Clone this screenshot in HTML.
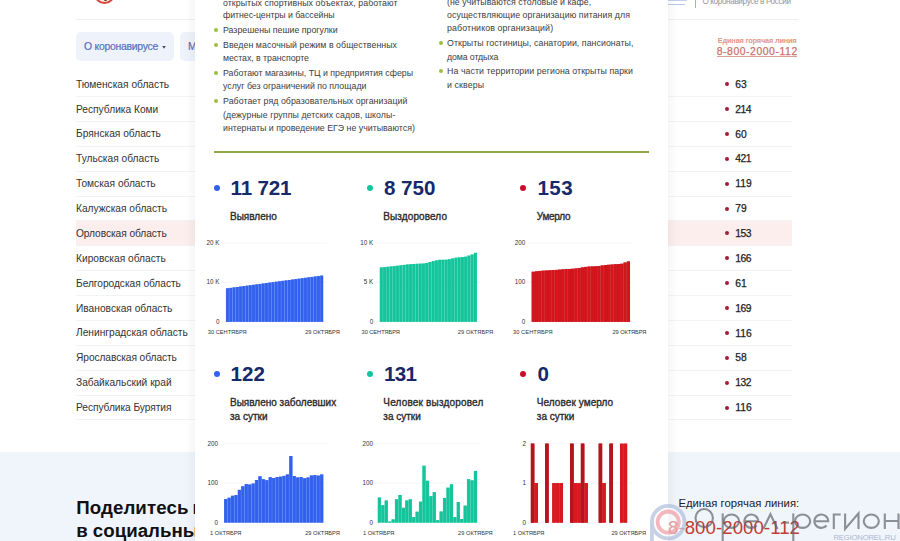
<!DOCTYPE html>
<html lang="ru"><head><meta charset="utf-8"><title>stopcoronavirus</title>
<style>
*{margin:0;padding:0;box-sizing:border-box}
html,body{width:900px;height:541px;overflow:hidden;background:#fff}
#wrap{position:absolute;left:0;top:0;width:900px;height:541px;overflow:hidden}
body{position:relative;font-family:"Liberation Sans",sans-serif;color:#222}
i{position:absolute;display:block}
.t{position:absolute;white-space:nowrap}
.hline{position:absolute;left:76px;width:722px;top:18.8px;height:1px;background:#efefef}
.pill{position:absolute;top:32px;height:29px;border-radius:5px;background:#edf2fb}
.rl{left:76px;width:716px;height:1px;background:#f3f3f3}
.hl{left:76px;width:716px;background:#fdeeee}
.rd{left:725.3px;width:4px;height:4px;border-radius:50%;background:#a81c33}
.foot{position:absolute;left:0;top:452px;width:900px;height:89px;background:#f0f4fb}
.modal{position:absolute;left:195px;top:-20px;width:473px;height:600px;background:#fff;box-shadow:0 0 12px rgba(30,30,40,.085)}
.gb{width:4px;height:4px;border-radius:50%;background:#9cc03e}
.gline{position:absolute;left:213.6px;width:435.6px;top:151.2px;height:1.8px;background:#8dab44}
.sd{width:6px;height:6px;border-radius:50%}
svg{position:absolute;left:0;top:0}
</style></head><body><div id="wrap">
<div class="hline"></div>
<div class="pill" style="left:76px;width:98px"></div>
<div class="pill" style="left:180px;width:120px"></div>
<svg width="900" height="70" viewBox="0 0 900 70"><path d="M162.2 45.9H165.8L164 48.7Z" fill="#474c63"/></svg>
<i style="left:94.4px;top:-17.2px;width:21px;height:21px;border-radius:50%;border:2px solid #d8453a;background:#fbeae4"></i><i style="left:103.6px;top:-3px;width:3px;height:4.4px;background:#5e4a2e;border-radius:1px"></i>
<i style="left:695px;top:0;width:1px;height:7.5px;background:#aab0bf"></i>
<i style="left:716.7px;top:55.7px;width:80.4px;height:1px;background:#d9a097"></i>
<i style="left:668px;top:0;width:18.5px;height:1.1px;background:#c2d0ec"></i><i style="left:668px;top:3.5px;width:17px;height:1.6px;background:#b7c7e8"></i>
<i class="rl" style="top:96px"></i><i class="rd" style="top:82.1px"></i>
<i class="rl" style="top:121px"></i><i class="rd" style="top:107.0px"></i>
<i class="rl" style="top:146px"></i><i class="rd" style="top:131.9px"></i>
<i class="rl" style="top:171px"></i><i class="rd" style="top:156.7px"></i>
<i class="rl" style="top:196px"></i><i class="rd" style="top:181.6px"></i>
<i class="rl" style="top:220px"></i><i class="rd" style="top:206.5px"></i>
<i class="hl" style="top:220.60px;height:25.40px"></i><i class="rl" style="top:245px"></i><i class="rd" style="top:231.4px"></i>
<i class="rl" style="top:270px"></i><i class="rd" style="top:256.3px"></i>
<i class="rl" style="top:295px"></i><i class="rd" style="top:281.1px"></i>
<i class="rl" style="top:320px"></i><i class="rd" style="top:306.0px"></i>
<i class="rl" style="top:345px"></i><i class="rd" style="top:330.9px"></i>
<i class="rl" style="top:370px"></i><i class="rd" style="top:355.8px"></i>
<i class="rl" style="top:395px"></i><i class="rd" style="top:380.7px"></i>
<i class="rl" style="top:419px"></i><i class="rd" style="top:405.5px"></i>
<div class="foot"></div>
<div class="t" id="t0" style="top:78px;font-size:10.20px;line-height:13px;color:#333;left:76.00px;">Тюменская область</div>
<div class="t" id="t1" style="top:78px;font-size:10.30px;line-height:13px;color:#222;left:735.20px;-webkit-text-stroke:0.25px #222;">63</div>
<div class="t" id="t2" style="top:103px;font-size:10.20px;line-height:13px;color:#333;left:76.00px;">Республика Коми</div>
<div class="t" id="t3" style="top:103px;font-size:10.30px;line-height:13px;color:#222;left:735.20px;letter-spacing:-0.500px;-webkit-text-stroke:0.25px #222;">214</div>
<div class="t" id="t4" style="top:127px;font-size:10.20px;line-height:13px;color:#333;left:76.00px;">Брянская область</div>
<div class="t" id="t5" style="top:128px;font-size:10.30px;line-height:13px;color:#222;left:735.20px;-webkit-text-stroke:0.25px #222;">60</div>
<div class="t" id="t6" style="top:152px;font-size:10.20px;line-height:13px;color:#333;left:76.00px;">Тульская область</div>
<div class="t" id="t7" style="top:152px;font-size:10.30px;line-height:13px;color:#222;left:735.20px;letter-spacing:-0.500px;-webkit-text-stroke:0.25px #222;">421</div>
<div class="t" id="t8" style="top:177px;font-size:10.20px;line-height:13px;color:#333;left:76.00px;">Томская область</div>
<div class="t" id="t9" style="top:177px;font-size:10.30px;line-height:13px;color:#222;left:735.20px;-webkit-text-stroke:0.25px #222;">119</div>
<div class="t" id="t10" style="top:202px;font-size:10.20px;line-height:13px;color:#333;left:76.00px;">Калужская область</div>
<div class="t" id="t11" style="top:202px;font-size:10.30px;line-height:13px;color:#222;left:735.20px;-webkit-text-stroke:0.25px #222;">79</div>
<div class="t" id="t12" style="top:227px;font-size:10.20px;line-height:13px;color:#333;left:76.00px;letter-spacing:-0.062px;">Орловская область</div>
<div class="t" id="t13" style="top:227px;font-size:10.30px;line-height:13px;color:#222;left:735.20px;letter-spacing:-0.500px;-webkit-text-stroke:0.25px #222;">153</div>
<div class="t" id="t14" style="top:252px;font-size:10.20px;line-height:13px;color:#333;left:76.00px;">Кировская область</div>
<div class="t" id="t15" style="top:252px;font-size:10.30px;line-height:13px;color:#222;left:735.20px;letter-spacing:-0.500px;-webkit-text-stroke:0.25px #222;">166</div>
<div class="t" id="t16" style="top:277px;font-size:10.20px;line-height:13px;color:#333;left:76.00px;letter-spacing:-0.042px;">Белгородская область</div>
<div class="t" id="t17" style="top:277px;font-size:10.30px;line-height:13px;color:#222;left:735.20px;-webkit-text-stroke:0.25px #222;">61</div>
<div class="t" id="t18" style="top:302px;font-size:10.20px;line-height:13px;color:#333;left:76.00px;">Ивановская область</div>
<div class="t" id="t19" style="top:302px;font-size:10.30px;line-height:13px;color:#222;left:735.20px;letter-spacing:-0.500px;-webkit-text-stroke:0.25px #222;">169</div>
<div class="t" id="t20" style="top:326px;font-size:10.20px;line-height:13px;color:#333;left:76.00px;">Ленинградская область</div>
<div class="t" id="t21" style="top:327px;font-size:10.30px;line-height:13px;color:#222;left:735.20px;-webkit-text-stroke:0.25px #222;">116</div>
<div class="t" id="t22" style="top:351px;font-size:10.20px;line-height:13px;color:#333;left:76.00px;letter-spacing:-0.072px;">Ярославская область</div>
<div class="t" id="t23" style="top:351px;font-size:10.30px;line-height:13px;color:#222;left:735.20px;-webkit-text-stroke:0.25px #222;">58</div>
<div class="t" id="t24" style="top:376px;font-size:10.20px;line-height:13px;color:#333;left:76.00px;">Забайкальский край</div>
<div class="t" id="t25" style="top:376px;font-size:10.30px;line-height:13px;color:#222;left:735.20px;letter-spacing:-0.500px;-webkit-text-stroke:0.25px #222;">132</div>
<div class="t" id="t26" style="top:401px;font-size:10.20px;line-height:13px;color:#333;left:76.00px;letter-spacing:-0.053px;">Республика Бурятия</div>
<div class="t" id="t27" style="top:401px;font-size:10.30px;line-height:13px;color:#222;left:735.20px;-webkit-text-stroke:0.25px #222;">116</div>
<div class="t" id="t28" style="top:40px;font-size:10.40px;line-height:14px;color:#5a6fbe;left:84.00px;letter-spacing:-0.249px;-webkit-text-stroke:0.2px #5a6fbe;">О коронавирусе</div>
<div class="t" id="t29" style="top:40px;font-size:10.40px;line-height:14px;color:#5a6fbe;left:188.00px;-webkit-text-stroke:0.2px #5a6fbe;">М</div>
<div class="t" id="t30" style="top:36px;font-size:7.40px;line-height:10px;color:#e29783;left:717.80px;font-weight:bold;letter-spacing:-0.200px;">Единая горячая линия</div>
<div class="t" id="t31" style="top:45px;font-size:10.40px;line-height:14px;color:#c9726a;left:716.70px;letter-spacing:0.562px;-webkit-text-stroke:0.25px #c9726a;">8-800-2000-112</div>
<div class="t" id="t32" style="top:-4px;font-size:8.20px;line-height:11px;color:#8f95a3;left:702.40px;letter-spacing:-0.382px;">О коронавирусе в России</div>
<div class="t" id="t33" style="top:496px;font-size:18.70px;line-height:24px;color:#111;left:76.20px;font-weight:bold;letter-spacing:0.090px;">Поделитесь</div>
<div class="t" id="t34" style="top:519px;font-size:18.70px;line-height:24px;color:#111;left:76.20px;font-weight:bold;">в социальных сетях</div>
<div class="t" id="t35" style="top:496px;font-size:11.30px;line-height:15px;color:#222;left:678.40px;">Единая горячая линия:</div>
<div class="t" id="t36" style="top:516px;font-size:18.60px;line-height:24px;color:#c03c35;left:668.00px;letter-spacing:0.077px;">8-800-2000-112</div>
<div class="t" id="t37" style="top:496px;font-size:18.70px;line-height:24px;color:#111;left:192.60px;font-weight:bold;">и</div>
<div class="modal"></div>
<i class="gb" style="left:214.3px;top:27.9px"></i><i class="gb" style="left:214.3px;top:42.5px"></i><i class="gb" style="left:214.3px;top:70.5px"></i><i class="gb" style="left:214.3px;top:98.8px"></i><i class="gb" style="left:439.0px;top:41.3px"></i><i class="gb" style="left:439.0px;top:69.2px"></i>
<div class="gline"></div>
<i class="sd" style="left:213.6px;top:185.1px;background:#3261ee"></i><i class="sd" style="left:213.6px;top:371.0px;background:#3261ee"></i><i class="sd" style="left:366.9px;top:185.1px;background:#15c49b"></i><i class="sd" style="left:366.9px;top:371.0px;background:#15c49b"></i><i class="sd" style="left:520.4px;top:185.1px;background:#c6102a"></i><i class="sd" style="left:520.4px;top:371.0px;background:#c6102a"></i>
<svg width="900" height="541" viewBox="0 0 900 541"><line x1="221" x2="327" y1="243.2" y2="243.2" stroke="#f6f6f6" stroke-width="1"/><line x1="221" x2="327" y1="282.4" y2="282.4" stroke="#f6f6f6" stroke-width="1"/><line x1="221" x2="327" y1="321.8" y2="321.8" stroke="#f6f6f6" stroke-width="1"/><line x1="221" x2="327" y1="443.7" y2="443.7" stroke="#f6f6f6" stroke-width="1"/><line x1="221" x2="327" y1="483.0" y2="483.0" stroke="#f6f6f6" stroke-width="1"/><line x1="221" x2="327" y1="522.3" y2="522.3" stroke="#f6f6f6" stroke-width="1"/><line x1="374" x2="480" y1="243.2" y2="243.2" stroke="#f6f6f6" stroke-width="1"/><line x1="374" x2="480" y1="282.4" y2="282.4" stroke="#f6f6f6" stroke-width="1"/><line x1="374" x2="480" y1="321.8" y2="321.8" stroke="#f6f6f6" stroke-width="1"/><line x1="374" x2="480" y1="443.7" y2="443.7" stroke="#f6f6f6" stroke-width="1"/><line x1="374" x2="480" y1="483.0" y2="483.0" stroke="#f6f6f6" stroke-width="1"/><line x1="374" x2="480" y1="522.3" y2="522.3" stroke="#f6f6f6" stroke-width="1"/><line x1="527" x2="633" y1="243.2" y2="243.2" stroke="#f6f6f6" stroke-width="1"/><line x1="527" x2="633" y1="282.4" y2="282.4" stroke="#f6f6f6" stroke-width="1"/><line x1="527" x2="633" y1="321.8" y2="321.8" stroke="#f6f6f6" stroke-width="1"/><line x1="527" x2="633" y1="443.7" y2="443.7" stroke="#f6f6f6" stroke-width="1"/><line x1="527" x2="633" y1="483.0" y2="483.0" stroke="#f6f6f6" stroke-width="1"/><line x1="527" x2="633" y1="522.3" y2="522.3" stroke="#f6f6f6" stroke-width="1"/><rect x="225.90" y="288.31" width="3.25" height="33.49" fill="#668bf6"/><rect x="229.15" y="287.87" width="3.25" height="33.93" fill="#668bf6"/><rect x="232.39" y="287.43" width="3.25" height="34.37" fill="#668bf6"/><rect x="235.64" y="287.00" width="3.25" height="34.80" fill="#668bf6"/><rect x="238.89" y="286.56" width="3.25" height="35.24" fill="#668bf6"/><rect x="242.13" y="286.12" width="3.25" height="35.68" fill="#668bf6"/><rect x="245.38" y="285.68" width="3.25" height="36.12" fill="#668bf6"/><rect x="248.63" y="285.25" width="3.25" height="36.55" fill="#668bf6"/><rect x="251.87" y="284.81" width="3.25" height="36.99" fill="#668bf6"/><rect x="255.12" y="284.37" width="3.25" height="37.43" fill="#668bf6"/><rect x="258.37" y="283.93" width="3.25" height="37.87" fill="#668bf6"/><rect x="261.61" y="283.50" width="3.25" height="38.30" fill="#668bf6"/><rect x="264.86" y="283.06" width="3.25" height="38.74" fill="#668bf6"/><rect x="268.11" y="282.62" width="3.25" height="39.18" fill="#668bf6"/><rect x="271.35" y="282.18" width="3.25" height="39.62" fill="#668bf6"/><rect x="274.60" y="281.75" width="3.25" height="40.05" fill="#668bf6"/><rect x="277.85" y="281.31" width="3.25" height="40.49" fill="#668bf6"/><rect x="281.09" y="280.87" width="3.25" height="40.93" fill="#668bf6"/><rect x="284.34" y="280.43" width="3.25" height="41.37" fill="#668bf6"/><rect x="287.59" y="280.00" width="3.25" height="41.80" fill="#668bf6"/><rect x="290.83" y="279.56" width="3.25" height="42.24" fill="#668bf6"/><rect x="294.08" y="279.12" width="3.25" height="42.68" fill="#668bf6"/><rect x="297.33" y="278.68" width="3.25" height="43.12" fill="#668bf6"/><rect x="300.57" y="278.24" width="3.25" height="43.56" fill="#668bf6"/><rect x="303.82" y="277.81" width="3.25" height="43.99" fill="#668bf6"/><rect x="307.07" y="277.37" width="3.25" height="44.43" fill="#668bf6"/><rect x="310.31" y="276.93" width="3.25" height="44.87" fill="#668bf6"/><rect x="313.56" y="276.49" width="3.25" height="45.31" fill="#668bf6"/><rect x="316.81" y="276.06" width="3.25" height="45.74" fill="#668bf6"/><rect x="320.05" y="275.62" width="3.25" height="46.18" fill="#668bf6"/><rect x="226.15" y="288.31" width="2.75" height="33.49" fill="#3261ee"/><rect x="229.40" y="287.87" width="2.75" height="33.93" fill="#3261ee"/><rect x="232.64" y="287.43" width="2.75" height="34.37" fill="#3261ee"/><rect x="235.89" y="287.00" width="2.75" height="34.80" fill="#3261ee"/><rect x="239.14" y="286.56" width="2.75" height="35.24" fill="#3261ee"/><rect x="242.38" y="286.12" width="2.75" height="35.68" fill="#3261ee"/><rect x="245.63" y="285.68" width="2.75" height="36.12" fill="#3261ee"/><rect x="248.88" y="285.25" width="2.75" height="36.55" fill="#3261ee"/><rect x="252.12" y="284.81" width="2.75" height="36.99" fill="#3261ee"/><rect x="255.37" y="284.37" width="2.75" height="37.43" fill="#3261ee"/><rect x="258.62" y="283.93" width="2.75" height="37.87" fill="#3261ee"/><rect x="261.86" y="283.50" width="2.75" height="38.30" fill="#3261ee"/><rect x="265.11" y="283.06" width="2.75" height="38.74" fill="#3261ee"/><rect x="268.36" y="282.62" width="2.75" height="39.18" fill="#3261ee"/><rect x="271.60" y="282.18" width="2.75" height="39.62" fill="#3261ee"/><rect x="274.85" y="281.75" width="2.75" height="40.05" fill="#3261ee"/><rect x="278.10" y="281.31" width="2.75" height="40.49" fill="#3261ee"/><rect x="281.34" y="280.87" width="2.75" height="40.93" fill="#3261ee"/><rect x="284.59" y="280.43" width="2.75" height="41.37" fill="#3261ee"/><rect x="287.84" y="280.00" width="2.75" height="41.80" fill="#3261ee"/><rect x="291.08" y="279.56" width="2.75" height="42.24" fill="#3261ee"/><rect x="294.33" y="279.12" width="2.75" height="42.68" fill="#3261ee"/><rect x="297.58" y="278.68" width="2.75" height="43.12" fill="#3261ee"/><rect x="300.82" y="278.24" width="2.75" height="43.56" fill="#3261ee"/><rect x="304.07" y="277.81" width="2.75" height="43.99" fill="#3261ee"/><rect x="307.32" y="277.37" width="2.75" height="44.43" fill="#3261ee"/><rect x="310.56" y="276.93" width="2.75" height="44.87" fill="#3261ee"/><rect x="313.81" y="276.49" width="2.75" height="45.31" fill="#3261ee"/><rect x="317.06" y="276.06" width="2.75" height="45.74" fill="#3261ee"/><rect x="320.30" y="275.62" width="2.75" height="46.18" fill="#3261ee"/><rect x="379.70" y="267.43" width="3.24" height="54.37" fill="#4fd5b6"/><rect x="382.94" y="267.11" width="3.24" height="54.69" fill="#4fd5b6"/><rect x="386.19" y="266.80" width="3.24" height="55.00" fill="#4fd5b6"/><rect x="389.43" y="266.48" width="3.24" height="55.32" fill="#4fd5b6"/><rect x="392.67" y="266.17" width="3.24" height="55.63" fill="#4fd5b6"/><rect x="395.92" y="265.75" width="3.24" height="56.05" fill="#4fd5b6"/><rect x="399.16" y="265.34" width="3.24" height="56.46" fill="#4fd5b6"/><rect x="402.40" y="264.93" width="3.24" height="56.87" fill="#4fd5b6"/><rect x="405.65" y="264.51" width="3.24" height="57.29" fill="#4fd5b6"/><rect x="408.89" y="264.26" width="3.24" height="57.54" fill="#4fd5b6"/><rect x="412.13" y="264.01" width="3.24" height="57.79" fill="#4fd5b6"/><rect x="415.38" y="263.81" width="3.24" height="57.99" fill="#4fd5b6"/><rect x="418.62" y="263.68" width="3.24" height="58.12" fill="#4fd5b6"/><rect x="421.86" y="263.54" width="3.24" height="58.26" fill="#4fd5b6"/><rect x="425.11" y="262.93" width="3.24" height="58.87" fill="#4fd5b6"/><rect x="428.35" y="262.01" width="3.24" height="59.79" fill="#4fd5b6"/><rect x="431.59" y="261.14" width="3.24" height="60.66" fill="#4fd5b6"/><rect x="434.84" y="260.39" width="3.24" height="61.41" fill="#4fd5b6"/><rect x="438.08" y="259.85" width="3.24" height="61.95" fill="#4fd5b6"/><rect x="441.32" y="259.78" width="3.24" height="62.02" fill="#4fd5b6"/><rect x="444.57" y="259.72" width="3.24" height="62.08" fill="#4fd5b6"/><rect x="447.81" y="259.19" width="3.24" height="62.61" fill="#4fd5b6"/><rect x="451.05" y="258.47" width="3.24" height="63.33" fill="#4fd5b6"/><rect x="454.30" y="257.74" width="3.24" height="64.06" fill="#4fd5b6"/><rect x="457.54" y="257.39" width="3.24" height="64.41" fill="#4fd5b6"/><rect x="460.78" y="257.05" width="3.24" height="64.75" fill="#4fd5b6"/><rect x="464.03" y="256.71" width="3.24" height="65.09" fill="#4fd5b6"/><rect x="467.27" y="255.65" width="3.24" height="66.15" fill="#4fd5b6"/><rect x="470.51" y="254.58" width="3.24" height="67.22" fill="#4fd5b6"/><rect x="473.76" y="252.85" width="3.24" height="68.95" fill="#4fd5b6"/><rect x="379.95" y="267.43" width="2.74" height="54.37" fill="#15c49b"/><rect x="383.19" y="267.11" width="2.74" height="54.69" fill="#15c49b"/><rect x="386.44" y="266.80" width="2.74" height="55.00" fill="#15c49b"/><rect x="389.68" y="266.48" width="2.74" height="55.32" fill="#15c49b"/><rect x="392.92" y="266.17" width="2.74" height="55.63" fill="#15c49b"/><rect x="396.17" y="265.75" width="2.74" height="56.05" fill="#15c49b"/><rect x="399.41" y="265.34" width="2.74" height="56.46" fill="#15c49b"/><rect x="402.65" y="264.93" width="2.74" height="56.87" fill="#15c49b"/><rect x="405.90" y="264.51" width="2.74" height="57.29" fill="#15c49b"/><rect x="409.14" y="264.26" width="2.74" height="57.54" fill="#15c49b"/><rect x="412.38" y="264.01" width="2.74" height="57.79" fill="#15c49b"/><rect x="415.63" y="263.81" width="2.74" height="57.99" fill="#15c49b"/><rect x="418.87" y="263.68" width="2.74" height="58.12" fill="#15c49b"/><rect x="422.11" y="263.54" width="2.74" height="58.26" fill="#15c49b"/><rect x="425.36" y="262.93" width="2.74" height="58.87" fill="#15c49b"/><rect x="428.60" y="262.01" width="2.74" height="59.79" fill="#15c49b"/><rect x="431.84" y="261.14" width="2.74" height="60.66" fill="#15c49b"/><rect x="435.09" y="260.39" width="2.74" height="61.41" fill="#15c49b"/><rect x="438.33" y="259.85" width="2.74" height="61.95" fill="#15c49b"/><rect x="441.57" y="259.78" width="2.74" height="62.02" fill="#15c49b"/><rect x="444.82" y="259.72" width="2.74" height="62.08" fill="#15c49b"/><rect x="448.06" y="259.19" width="2.74" height="62.61" fill="#15c49b"/><rect x="451.30" y="258.47" width="2.74" height="63.33" fill="#15c49b"/><rect x="454.55" y="257.74" width="2.74" height="64.06" fill="#15c49b"/><rect x="457.79" y="257.39" width="2.74" height="64.41" fill="#15c49b"/><rect x="461.03" y="257.05" width="2.74" height="64.75" fill="#15c49b"/><rect x="464.28" y="256.71" width="2.74" height="65.09" fill="#15c49b"/><rect x="467.52" y="255.65" width="2.74" height="66.15" fill="#15c49b"/><rect x="470.76" y="254.58" width="2.74" height="67.22" fill="#15c49b"/><rect x="474.01" y="252.85" width="2.74" height="68.95" fill="#15c49b"/><rect x="531.60" y="271.76" width="3.28" height="50.04" fill="#b81219"/><rect x="534.88" y="271.35" width="3.28" height="50.45" fill="#b81219"/><rect x="538.16" y="270.94" width="3.28" height="50.86" fill="#b81219"/><rect x="541.44" y="270.70" width="3.28" height="51.10" fill="#b81219"/><rect x="544.72" y="270.53" width="3.28" height="51.27" fill="#b81219"/><rect x="548.00" y="270.36" width="3.28" height="51.44" fill="#b81219"/><rect x="551.28" y="270.13" width="3.28" height="51.67" fill="#b81219"/><rect x="554.56" y="269.91" width="3.28" height="51.89" fill="#b81219"/><rect x="557.84" y="269.66" width="3.28" height="52.14" fill="#b81219"/><rect x="561.12" y="269.39" width="3.28" height="52.41" fill="#b81219"/><rect x="564.40" y="269.12" width="3.28" height="52.68" fill="#b81219"/><rect x="567.68" y="268.96" width="3.28" height="52.84" fill="#b81219"/><rect x="570.96" y="268.79" width="3.28" height="53.01" fill="#b81219"/><rect x="574.24" y="268.48" width="3.28" height="53.32" fill="#b81219"/><rect x="577.52" y="267.97" width="3.28" height="53.83" fill="#b81219"/><rect x="580.80" y="267.45" width="3.28" height="54.35" fill="#b81219"/><rect x="584.08" y="266.91" width="3.28" height="54.89" fill="#b81219"/><rect x="587.36" y="266.58" width="3.28" height="55.22" fill="#b81219"/><rect x="590.64" y="266.46" width="3.28" height="55.34" fill="#b81219"/><rect x="593.92" y="266.34" width="3.28" height="55.46" fill="#b81219"/><rect x="597.20" y="266.13" width="3.28" height="55.67" fill="#b81219"/><rect x="600.48" y="265.52" width="3.28" height="56.28" fill="#b81219"/><rect x="603.76" y="265.03" width="3.28" height="56.77" fill="#b81219"/><rect x="607.04" y="264.79" width="3.28" height="57.01" fill="#b81219"/><rect x="610.32" y="264.55" width="3.28" height="57.25" fill="#b81219"/><rect x="613.60" y="264.31" width="3.28" height="57.49" fill="#b81219"/><rect x="616.88" y="264.09" width="3.28" height="57.71" fill="#b81219"/><rect x="620.16" y="263.76" width="3.28" height="58.04" fill="#b81219"/><rect x="623.44" y="262.55" width="3.28" height="59.25" fill="#b81219"/><rect x="626.72" y="261.52" width="3.28" height="60.28" fill="#b81219"/><rect x="531.85" y="271.76" width="2.78" height="50.04" fill="#d6141c"/><rect x="535.13" y="271.35" width="2.78" height="50.45" fill="#d6141c"/><rect x="538.41" y="270.94" width="2.78" height="50.86" fill="#d6141c"/><rect x="541.69" y="270.70" width="2.78" height="51.10" fill="#d6141c"/><rect x="544.97" y="270.53" width="2.78" height="51.27" fill="#d6141c"/><rect x="548.25" y="270.36" width="2.78" height="51.44" fill="#d6141c"/><rect x="551.53" y="270.13" width="2.78" height="51.67" fill="#d6141c"/><rect x="554.81" y="269.91" width="2.78" height="51.89" fill="#d6141c"/><rect x="558.09" y="269.66" width="2.78" height="52.14" fill="#d6141c"/><rect x="561.37" y="269.39" width="2.78" height="52.41" fill="#d6141c"/><rect x="564.65" y="269.12" width="2.78" height="52.68" fill="#d6141c"/><rect x="567.93" y="268.96" width="2.78" height="52.84" fill="#d6141c"/><rect x="571.21" y="268.79" width="2.78" height="53.01" fill="#d6141c"/><rect x="574.49" y="268.48" width="2.78" height="53.32" fill="#d6141c"/><rect x="577.77" y="267.97" width="2.78" height="53.83" fill="#d6141c"/><rect x="581.05" y="267.45" width="2.78" height="54.35" fill="#d6141c"/><rect x="584.33" y="266.91" width="2.78" height="54.89" fill="#d6141c"/><rect x="587.61" y="266.58" width="2.78" height="55.22" fill="#d6141c"/><rect x="590.89" y="266.46" width="2.78" height="55.34" fill="#d6141c"/><rect x="594.17" y="266.34" width="2.78" height="55.46" fill="#d6141c"/><rect x="597.45" y="266.13" width="2.78" height="55.67" fill="#d6141c"/><rect x="600.73" y="265.52" width="2.78" height="56.28" fill="#d6141c"/><rect x="604.01" y="265.03" width="2.78" height="56.77" fill="#d6141c"/><rect x="607.29" y="264.79" width="2.78" height="57.01" fill="#d6141c"/><rect x="610.57" y="264.55" width="2.78" height="57.25" fill="#d6141c"/><rect x="613.85" y="264.31" width="2.78" height="57.49" fill="#d6141c"/><rect x="617.13" y="264.09" width="2.78" height="57.71" fill="#d6141c"/><rect x="620.41" y="263.76" width="2.78" height="58.04" fill="#d6141c"/><rect x="623.69" y="262.55" width="2.78" height="59.25" fill="#d6141c"/><rect x="626.97" y="261.52" width="2.78" height="60.28" fill="#d6141c"/><rect x="224.00" y="499.05" width="3.43" height="23.55" fill="#668bf6"/><rect x="227.43" y="497.75" width="3.43" height="24.85" fill="#668bf6"/><rect x="230.86" y="495.77" width="3.43" height="26.83" fill="#668bf6"/><rect x="234.28" y="495.14" width="3.43" height="27.46" fill="#668bf6"/><rect x="237.71" y="489.86" width="3.43" height="32.74" fill="#668bf6"/><rect x="241.14" y="486.31" width="3.43" height="36.29" fill="#668bf6"/><rect x="244.57" y="484.14" width="3.43" height="38.46" fill="#668bf6"/><rect x="247.99" y="484.53" width="3.43" height="38.07" fill="#668bf6"/><rect x="251.42" y="483.54" width="3.43" height="39.06" fill="#668bf6"/><rect x="254.85" y="479.99" width="3.43" height="42.61" fill="#668bf6"/><rect x="258.28" y="476.29" width="3.43" height="46.31" fill="#668bf6"/><rect x="261.70" y="479.21" width="3.43" height="43.40" fill="#668bf6"/><rect x="265.13" y="480.19" width="3.43" height="42.41" fill="#668bf6"/><rect x="268.56" y="477.23" width="3.43" height="45.37" fill="#668bf6"/><rect x="271.99" y="478.02" width="3.43" height="44.58" fill="#668bf6"/><rect x="275.41" y="477.07" width="3.43" height="45.53" fill="#668bf6"/><rect x="278.84" y="476.68" width="3.43" height="45.92" fill="#668bf6"/><rect x="282.27" y="475.89" width="3.43" height="46.71" fill="#668bf6"/><rect x="285.70" y="474.47" width="3.43" height="48.13" fill="#668bf6"/><rect x="289.12" y="456.05" width="3.43" height="66.55" fill="#668bf6"/><rect x="292.55" y="476.05" width="3.43" height="46.55" fill="#668bf6"/><rect x="295.98" y="477.47" width="3.43" height="45.13" fill="#668bf6"/><rect x="299.41" y="477.07" width="3.43" height="45.53" fill="#668bf6"/><rect x="302.83" y="478.26" width="3.43" height="44.34" fill="#668bf6"/><rect x="306.26" y="477.47" width="3.43" height="45.13" fill="#668bf6"/><rect x="309.69" y="475.50" width="3.43" height="47.10" fill="#668bf6"/><rect x="313.12" y="475.10" width="3.43" height="47.50" fill="#668bf6"/><rect x="316.54" y="475.65" width="3.43" height="46.95" fill="#668bf6"/><rect x="319.97" y="474.47" width="3.43" height="48.13" fill="#668bf6"/><rect x="224.25" y="499.05" width="2.93" height="23.55" fill="#3261ee"/><rect x="227.68" y="497.75" width="2.93" height="24.85" fill="#3261ee"/><rect x="231.11" y="495.77" width="2.93" height="26.83" fill="#3261ee"/><rect x="234.53" y="495.14" width="2.93" height="27.46" fill="#3261ee"/><rect x="237.96" y="489.86" width="2.93" height="32.74" fill="#3261ee"/><rect x="241.39" y="486.31" width="2.93" height="36.29" fill="#3261ee"/><rect x="244.82" y="484.14" width="2.93" height="38.46" fill="#3261ee"/><rect x="248.24" y="484.53" width="2.93" height="38.07" fill="#3261ee"/><rect x="251.67" y="483.54" width="2.93" height="39.06" fill="#3261ee"/><rect x="255.10" y="479.99" width="2.93" height="42.61" fill="#3261ee"/><rect x="258.53" y="476.29" width="2.93" height="46.31" fill="#3261ee"/><rect x="261.95" y="479.21" width="2.93" height="43.40" fill="#3261ee"/><rect x="265.38" y="480.19" width="2.93" height="42.41" fill="#3261ee"/><rect x="268.81" y="477.23" width="2.93" height="45.37" fill="#3261ee"/><rect x="272.24" y="478.02" width="2.93" height="44.58" fill="#3261ee"/><rect x="275.66" y="477.07" width="2.93" height="45.53" fill="#3261ee"/><rect x="279.09" y="476.68" width="2.93" height="45.92" fill="#3261ee"/><rect x="282.52" y="475.89" width="2.93" height="46.71" fill="#3261ee"/><rect x="285.95" y="474.47" width="2.93" height="48.13" fill="#3261ee"/><rect x="289.37" y="456.05" width="2.93" height="66.55" fill="#3261ee"/><rect x="292.80" y="476.05" width="2.93" height="46.55" fill="#3261ee"/><rect x="296.23" y="477.47" width="2.93" height="45.13" fill="#3261ee"/><rect x="299.66" y="477.07" width="2.93" height="45.53" fill="#3261ee"/><rect x="303.08" y="478.26" width="2.93" height="44.34" fill="#3261ee"/><rect x="306.51" y="477.47" width="2.93" height="45.13" fill="#3261ee"/><rect x="309.94" y="475.50" width="2.93" height="47.10" fill="#3261ee"/><rect x="313.37" y="475.10" width="2.93" height="47.50" fill="#3261ee"/><rect x="316.79" y="475.65" width="2.93" height="46.95" fill="#3261ee"/><rect x="320.22" y="474.47" width="2.93" height="48.13" fill="#3261ee"/><rect x="377.70" y="497.55" width="3.43" height="25.05" fill="#4fd5b6"/><rect x="381.13" y="505.24" width="3.43" height="17.36" fill="#4fd5b6"/><rect x="384.56" y="500.51" width="3.43" height="22.09" fill="#4fd5b6"/><rect x="387.99" y="521.57" width="3.43" height="1.03" fill="#4fd5b6"/><rect x="391.42" y="519.44" width="3.43" height="3.16" fill="#4fd5b6"/><rect x="394.86" y="499.32" width="3.43" height="23.28" fill="#4fd5b6"/><rect x="398.29" y="494.99" width="3.43" height="27.62" fill="#4fd5b6"/><rect x="401.72" y="507.81" width="3.43" height="14.79" fill="#4fd5b6"/><rect x="405.15" y="500.51" width="3.43" height="22.09" fill="#4fd5b6"/><rect x="408.58" y="499.32" width="3.43" height="23.28" fill="#4fd5b6"/><rect x="412.01" y="517.08" width="3.43" height="5.52" fill="#4fd5b6"/><rect x="415.44" y="511.71" width="3.43" height="10.89" fill="#4fd5b6"/><rect x="418.87" y="501.69" width="3.43" height="20.91" fill="#4fd5b6"/><rect x="422.30" y="465.79" width="3.43" height="56.81" fill="#4fd5b6"/><rect x="425.73" y="480.78" width="3.43" height="41.82" fill="#4fd5b6"/><rect x="429.17" y="496.17" width="3.43" height="26.43" fill="#4fd5b6"/><rect x="432.60" y="492.22" width="3.43" height="30.38" fill="#4fd5b6"/><rect x="436.03" y="520.23" width="3.43" height="2.37" fill="#4fd5b6"/><rect x="439.46" y="511.55" width="3.43" height="11.05" fill="#4fd5b6"/><rect x="442.89" y="497.94" width="3.43" height="24.66" fill="#4fd5b6"/><rect x="446.32" y="487.69" width="3.43" height="34.91" fill="#4fd5b6"/><rect x="449.75" y="484.33" width="3.43" height="38.27" fill="#4fd5b6"/><rect x="453.18" y="517.08" width="3.43" height="5.52" fill="#4fd5b6"/><rect x="456.61" y="502.09" width="3.43" height="20.51" fill="#4fd5b6"/><rect x="460.04" y="519.05" width="3.43" height="3.55" fill="#4fd5b6"/><rect x="463.48" y="505.64" width="3.43" height="16.96" fill="#4fd5b6"/><rect x="466.91" y="479.21" width="3.43" height="43.40" fill="#4fd5b6"/><rect x="470.34" y="480.39" width="3.43" height="42.21" fill="#4fd5b6"/><rect x="473.77" y="470.92" width="3.43" height="51.68" fill="#4fd5b6"/><rect x="377.95" y="497.55" width="2.93" height="25.05" fill="#15c49b"/><rect x="381.38" y="505.24" width="2.93" height="17.36" fill="#15c49b"/><rect x="384.81" y="500.51" width="2.93" height="22.09" fill="#15c49b"/><rect x="388.24" y="521.57" width="2.93" height="1.03" fill="#15c49b"/><rect x="391.67" y="519.44" width="2.93" height="3.16" fill="#15c49b"/><rect x="395.11" y="499.32" width="2.93" height="23.28" fill="#15c49b"/><rect x="398.54" y="494.99" width="2.93" height="27.62" fill="#15c49b"/><rect x="401.97" y="507.81" width="2.93" height="14.79" fill="#15c49b"/><rect x="405.40" y="500.51" width="2.93" height="22.09" fill="#15c49b"/><rect x="408.83" y="499.32" width="2.93" height="23.28" fill="#15c49b"/><rect x="412.26" y="517.08" width="2.93" height="5.52" fill="#15c49b"/><rect x="415.69" y="511.71" width="2.93" height="10.89" fill="#15c49b"/><rect x="419.12" y="501.69" width="2.93" height="20.91" fill="#15c49b"/><rect x="422.55" y="465.79" width="2.93" height="56.81" fill="#15c49b"/><rect x="425.98" y="480.78" width="2.93" height="41.82" fill="#15c49b"/><rect x="429.42" y="496.17" width="2.93" height="26.43" fill="#15c49b"/><rect x="432.85" y="492.22" width="2.93" height="30.38" fill="#15c49b"/><rect x="436.28" y="520.23" width="2.93" height="2.37" fill="#15c49b"/><rect x="439.71" y="511.55" width="2.93" height="11.05" fill="#15c49b"/><rect x="443.14" y="497.94" width="2.93" height="24.66" fill="#15c49b"/><rect x="446.57" y="487.69" width="2.93" height="34.91" fill="#15c49b"/><rect x="450.00" y="484.33" width="2.93" height="38.27" fill="#15c49b"/><rect x="453.43" y="517.08" width="2.93" height="5.52" fill="#15c49b"/><rect x="456.86" y="502.09" width="2.93" height="20.51" fill="#15c49b"/><rect x="460.29" y="519.05" width="2.93" height="3.55" fill="#15c49b"/><rect x="463.73" y="505.64" width="2.93" height="16.96" fill="#15c49b"/><rect x="467.16" y="479.21" width="2.93" height="43.40" fill="#15c49b"/><rect x="470.59" y="480.39" width="2.93" height="42.21" fill="#15c49b"/><rect x="474.02" y="470.92" width="2.93" height="51.68" fill="#15c49b"/><rect x="530.80" y="443.70" width="3.57" height="78.90" fill="#b81219"/><rect x="534.37" y="483.15" width="3.57" height="39.45" fill="#b81219"/><rect x="545.09" y="443.70" width="3.57" height="78.90" fill="#b81219"/><rect x="552.23" y="483.15" width="3.57" height="39.45" fill="#b81219"/><rect x="555.80" y="483.15" width="3.57" height="39.45" fill="#b81219"/><rect x="559.37" y="483.15" width="3.57" height="39.45" fill="#b81219"/><rect x="570.09" y="443.70" width="3.57" height="78.90" fill="#b81219"/><rect x="573.66" y="483.15" width="3.57" height="39.45" fill="#b81219"/><rect x="577.23" y="483.15" width="3.57" height="39.45" fill="#b81219"/><rect x="580.80" y="443.70" width="3.57" height="78.90" fill="#b81219"/><rect x="584.37" y="483.15" width="3.57" height="39.45" fill="#b81219"/><rect x="598.66" y="443.70" width="3.57" height="78.90" fill="#b81219"/><rect x="602.23" y="483.15" width="3.57" height="39.45" fill="#b81219"/><rect x="609.37" y="443.70" width="3.57" height="78.90" fill="#b81219"/><rect x="620.09" y="443.70" width="3.57" height="78.90" fill="#b81219"/><rect x="623.66" y="443.70" width="3.57" height="78.90" fill="#b81219"/><rect x="531.05" y="443.70" width="3.07" height="78.90" fill="#dc181f"/><rect x="530.90" y="443.70" width="3.37" height="78.90" fill="#b4141b"/><rect x="534.62" y="483.15" width="3.07" height="39.45" fill="#dc181f"/><rect x="545.34" y="443.70" width="3.07" height="78.90" fill="#dc181f"/><rect x="545.19" y="443.70" width="3.37" height="78.90" fill="#b4141b"/><rect x="552.48" y="483.15" width="3.07" height="39.45" fill="#dc181f"/><rect x="556.05" y="483.15" width="3.07" height="39.45" fill="#dc181f"/><rect x="559.62" y="483.15" width="3.07" height="39.45" fill="#dc181f"/><rect x="570.34" y="443.70" width="3.07" height="78.90" fill="#dc181f"/><rect x="570.19" y="443.70" width="3.37" height="78.90" fill="#b4141b"/><rect x="573.91" y="483.15" width="3.07" height="39.45" fill="#dc181f"/><rect x="577.48" y="483.15" width="3.07" height="39.45" fill="#dc181f"/><rect x="581.05" y="443.70" width="3.07" height="78.90" fill="#dc181f"/><rect x="580.90" y="443.70" width="3.37" height="78.90" fill="#b4141b"/><rect x="584.62" y="483.15" width="3.07" height="39.45" fill="#dc181f"/><rect x="598.91" y="443.70" width="3.07" height="78.90" fill="#dc181f"/><rect x="598.76" y="443.70" width="3.37" height="78.90" fill="#b4141b"/><rect x="602.48" y="483.15" width="3.07" height="39.45" fill="#dc181f"/><rect x="609.62" y="443.70" width="3.07" height="78.90" fill="#dc181f"/><rect x="609.47" y="443.70" width="3.37" height="78.90" fill="#b4141b"/><rect x="620.34" y="443.70" width="3.07" height="78.90" fill="#dc181f"/><rect x="623.91" y="443.70" width="3.07" height="78.90" fill="#dc181f"/></svg>
<div class="t" id="t38" style="top:-2px;font-size:8.80px;line-height:11px;color:#404040;left:223.00px;letter-spacing:0.059px;">открытых спортивных объектах, работают</div>
<div class="t" id="t39" style="top:10px;font-size:8.80px;line-height:11px;color:#404040;left:223.00px;letter-spacing:-0.043px;">фитнес-центры и бассейны</div>
<div class="t" id="t40" style="top:25px;font-size:8.80px;line-height:11px;color:#404040;left:223.00px;">Разрешены пешие прогулки</div>
<div class="t" id="t41" style="top:40px;font-size:8.80px;line-height:11px;color:#404040;left:223.00px;letter-spacing:0.054px;">Введен масочный режим в общественных</div>
<div class="t" id="t42" style="top:53px;font-size:8.80px;line-height:11px;color:#404040;left:223.00px;letter-spacing:-0.047px;">местах, в транспорте</div>
<div class="t" id="t43" style="top:68px;font-size:8.80px;line-height:11px;color:#404040;left:223.00px;">Работают магазины, ТЦ и предприятия сферы</div>
<div class="t" id="t44" style="top:81px;font-size:8.80px;line-height:11px;color:#404040;left:223.00px;">услуг без ограничений по площади</div>
<div class="t" id="t45" style="top:96px;font-size:8.80px;line-height:11px;color:#404040;left:223.00px;letter-spacing:0.051px;">Работает ряд образовательных организаций</div>
<div class="t" id="t46" style="top:110px;font-size:8.80px;line-height:11px;color:#404040;left:223.00px;letter-spacing:0.068px;">(дежурные группы детских садов, школы-</div>
<div class="t" id="t47" style="top:123px;font-size:8.80px;line-height:11px;color:#404040;left:223.00px;">интернаты и проведение ЕГЭ не учитываются)</div>
<div class="t" id="t48" style="top:-3px;font-size:8.80px;line-height:11px;color:#404040;left:447.00px;letter-spacing:0.032px;">(не учитываются столовые и кафе,</div>
<div class="t" id="t49" style="top:10px;font-size:8.80px;line-height:11px;color:#404040;left:447.00px;letter-spacing:0.068px;">осуществляющие организацию питания для</div>
<div class="t" id="t50" style="top:23px;font-size:8.80px;line-height:11px;color:#404040;left:447.00px;letter-spacing:0.118px;">работников организаций)</div>
<div class="t" id="t51" style="top:38px;font-size:8.80px;line-height:11px;color:#404040;left:447.00px;letter-spacing:0.052px;">Открыты гостиницы, санатории, пансионаты,</div>
<div class="t" id="t52" style="top:52px;font-size:8.80px;line-height:11px;color:#404040;left:447.00px;letter-spacing:-0.120px;">дома отдыха</div>
<div class="t" id="t53" style="top:66px;font-size:8.80px;line-height:11px;color:#404040;left:447.00px;letter-spacing:0.065px;">На части территории региона открыты парки</div>
<div class="t" id="t54" style="top:80px;font-size:8.80px;line-height:11px;color:#404040;left:447.00px;letter-spacing:0.116px;">и скверы</div>
<div class="t" id="t55" style="top:174px;font-size:20.60px;line-height:27px;color:#17296b;left:230.60px;font-weight:bold;letter-spacing:-0.200px;">11 721</div>
<div class="t" id="t56" style="top:210px;font-size:10.00px;line-height:13px;color:#2b2b2b;left:230.00px;-webkit-text-stroke:0.35px #2b2b2b;">Выявлено</div>
<div class="t" id="t57" style="top:360px;font-size:20.60px;line-height:27px;color:#17296b;left:230.60px;font-weight:bold;">122</div>
<div class="t" id="t58" style="top:396px;font-size:10.00px;line-height:13px;color:#2b2b2b;left:230.00px;-webkit-text-stroke:0.35px #2b2b2b;">Выявлено заболевших</div>
<div class="t" id="t59" style="top:410px;font-size:10.00px;line-height:13px;color:#2b2b2b;left:230.00px;-webkit-text-stroke:0.35px #2b2b2b;">за сутки</div>
<div class="t" id="t60" style="top:174px;font-size:20.60px;line-height:27px;color:#17296b;left:383.90px;font-weight:bold;">8 750</div>
<div class="t" id="t61" style="top:210px;font-size:10.00px;line-height:13px;color:#2b2b2b;left:383.30px;letter-spacing:0.100px;-webkit-text-stroke:0.35px #2b2b2b;">Выздоровело</div>
<div class="t" id="t62" style="top:360px;font-size:20.60px;line-height:27px;color:#17296b;left:383.90px;font-weight:bold;letter-spacing:-0.600px;">131</div>
<div class="t" id="t63" style="top:396px;font-size:10.00px;line-height:13px;color:#2b2b2b;left:383.30px;letter-spacing:0.176px;-webkit-text-stroke:0.35px #2b2b2b;">Человек выздоровел</div>
<div class="t" id="t64" style="top:410px;font-size:10.00px;line-height:13px;color:#2b2b2b;left:383.30px;-webkit-text-stroke:0.35px #2b2b2b;">за сутки</div>
<div class="t" id="t65" style="top:174px;font-size:20.60px;line-height:27px;color:#17296b;left:537.40px;font-weight:bold;letter-spacing:0.500px;">153</div>
<div class="t" id="t66" style="top:210px;font-size:10.00px;line-height:13px;color:#2b2b2b;left:536.80px;letter-spacing:-0.280px;-webkit-text-stroke:0.35px #2b2b2b;">Умерло</div>
<div class="t" id="t67" style="top:360px;font-size:20.60px;line-height:27px;color:#17296b;left:537.40px;font-weight:bold;">0</div>
<div class="t" id="t68" style="top:396px;font-size:10.00px;line-height:13px;color:#2b2b2b;left:536.80px;letter-spacing:0.077px;-webkit-text-stroke:0.35px #2b2b2b;">Человек умерло</div>
<div class="t" id="t69" style="top:410px;font-size:10.00px;line-height:13px;color:#2b2b2b;left:536.80px;-webkit-text-stroke:0.35px #2b2b2b;">за сутки</div>
<div class="t" id="t70" style="top:239px;font-size:6.30px;line-height:8px;color:#333;right:680.60px;">20 K</div>
<div class="t" id="t71" style="top:278px;font-size:6.30px;line-height:8px;color:#333;right:680.60px;">10 K</div>
<div class="t" id="t72" style="top:318px;font-size:6.30px;line-height:8px;color:#333;right:680.60px;">0</div>
<div class="t" id="t73" style="top:239px;font-size:6.30px;line-height:8px;color:#333;right:526.80px;">10 K</div>
<div class="t" id="t74" style="top:278px;font-size:6.30px;line-height:8px;color:#333;right:526.80px;">5 K</div>
<div class="t" id="t75" style="top:318px;font-size:6.30px;line-height:8px;color:#333;right:526.80px;">0</div>
<div class="t" id="t76" style="top:239px;font-size:6.30px;line-height:8px;color:#333;right:374.70px;">200</div>
<div class="t" id="t77" style="top:278px;font-size:6.30px;line-height:8px;color:#333;right:374.70px;">100</div>
<div class="t" id="t78" style="top:318px;font-size:6.30px;line-height:8px;color:#333;right:374.70px;">0</div>
<div class="t" id="t79" style="top:440px;font-size:6.30px;line-height:8px;color:#333;right:682.00px;">200</div>
<div class="t" id="t80" style="top:479px;font-size:6.30px;line-height:8px;color:#333;right:682.00px;">100</div>
<div class="t" id="t81" style="top:519px;font-size:6.30px;line-height:8px;color:#333;right:682.00px;">0</div>
<div class="t" id="t82" style="top:440px;font-size:6.30px;line-height:8px;color:#333;right:527.00px;">200</div>
<div class="t" id="t83" style="top:479px;font-size:6.30px;line-height:8px;color:#333;right:527.00px;">100</div>
<div class="t" id="t84" style="top:519px;font-size:6.30px;line-height:8px;color:#333;right:527.00px;">0</div>
<div class="t" id="t85" style="top:440px;font-size:6.30px;line-height:8px;color:#333;right:374.00px;">2</div>
<div class="t" id="t86" style="top:479px;font-size:6.30px;line-height:8px;color:#333;right:374.00px;">1</div>
<div class="t" id="t87" style="top:519px;font-size:6.30px;line-height:8px;color:#333;right:374.00px;">0</div>
<div class="t" id="t88" style="top:329px;font-size:5.70px;line-height:7px;color:#333;left:207.80px;">30 СЕНТЯБРЯ</div>
<div class="t" id="t89" style="top:329px;font-size:5.70px;line-height:7px;color:#333;right:560.20px;">29 ОКТЯБРЯ</div>
<div class="t" id="t90" style="top:329px;font-size:5.70px;line-height:7px;color:#333;left:361.60px;letter-spacing:-0.060px;">30 СЕНТЯБРЯ</div>
<div class="t" id="t91" style="top:329px;font-size:5.70px;line-height:7px;color:#333;right:406.80px;letter-spacing:0.078px;">29 ОКТЯБРЯ</div>
<div class="t" id="t92" style="top:329px;font-size:5.70px;line-height:7px;color:#333;left:513.00px;letter-spacing:0.070px;">30 СЕНТЯБРЯ</div>
<div class="t" id="t93" style="top:329px;font-size:5.70px;line-height:7px;color:#333;right:253.70px;letter-spacing:-0.078px;">29 ОКТЯБРЯ</div>
<div class="t" id="t94" style="top:530px;font-size:5.70px;line-height:7px;color:#333;left:210.00px;">1 ОКТЯБРЯ</div>
<div class="t" id="t95" style="top:530px;font-size:5.70px;line-height:7px;color:#333;right:560.20px;">29 ОКТЯБРЯ</div>
<div class="t" id="t96" style="top:530px;font-size:5.70px;line-height:7px;color:#333;left:363.00px;">1 ОКТЯБРЯ</div>
<div class="t" id="t97" style="top:530px;font-size:5.70px;line-height:7px;color:#333;right:407.30px;">29 ОКТЯБРЯ</div>
<div class="t" id="t98" style="top:530px;font-size:5.70px;line-height:7px;color:#333;left:513.00px;">1 ОКТЯБРЯ</div>
<div class="t" id="t99" style="top:530px;font-size:5.70px;line-height:7px;color:#333;right:254.00px;">29 ОКТЯБРЯ</div>
<svg width="900" height="541" viewBox="0 0 900 541" style="pointer-events:none">
<circle cx="668.2" cy="522.1" r="16.3" fill="#fff" fill-opacity=".5"/>
<g fill="none" opacity=".62">
<circle cx="668.2" cy="522.1" r="16.3" stroke="#a5b6d8" stroke-width="3.8"/>
<rect x="650" y="523" width="3.8" height="20" fill="#a5b6d8"/>
</g>
<circle cx="668.2" cy="522.1" r="10.6" fill="none" stroke="#ee9aa2" stroke-opacity=".7" stroke-width="3.8"/>
<g fill="none" stroke="#5d5e64" stroke-opacity=".68" stroke-width="2.1">
<ellipse cx="704.2" cy="518.05" rx="8.7" ry="9.05"/>
<path d="M722.7 513.4V545"/><ellipse cx="731.5" cy="521.2" rx="7.6" ry="6.7"/>
<path d="M744.4 521.3H758.2A6.9 6.7 0 1 0 756.6 525.5"/>
<path d="M763.3 529L770.4 514.2L777.5 529"/>
<path d="M783 522.6H789"/>
<path d="M793.3 513.4V545"/><ellipse cx="802.6" cy="521.2" rx="7.6" ry="6.7"/>
<path d="M814.4 521.3H828.2A6.9 6.7 0 1 0 826.6 525.5"/>
<path d="M833.8 529V514.5H840.7"/>
<path d="M845.1 513.4V529L858.5 513.4V529"/>
<ellipse cx="871.3" cy="521.2" rx="7.55" ry="6.7"/>
<path d="M884.8 513.4V529M884.8 521H898.5M898.5 513.4V529"/>
</g>
<text x="833.4" y="539.8" font-family="Liberation Sans, sans-serif" font-size="7.8" style="letter-spacing:-0.25px" fill="#9dabc9" fill-opacity=".85">REGIONOREL.RU</text>
</svg>
</div></body></html>
